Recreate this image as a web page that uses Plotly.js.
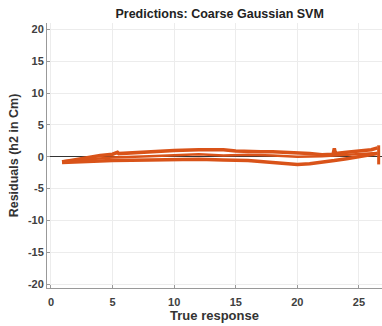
<!DOCTYPE html>
<html><head><meta charset="utf-8">
<script src="https://cdn.plot.ly/plotly-3.0.1.min.js"></script>
<style>html,body{margin:0;padding:0;background:#fff}#c{width:382px;height:326px}</style>
</head><body><div id="c"></div>
<script>
// Upper strand
const xA = [0.9,2,3,4,5,5.4,5.5,7,8.7,10,12,14,15,16,17,18,19,20,21,22,22.9,23,23.1,24,25,26,26.5];
const yA = [-0.8,-0.4,-0.1,0.2,0.4,0.7,0.5,0.7,0.9,1.0,1.1,1.1,0.9,0.8,0.8,0.8,0.7,0.7,0.5,0.3,0.4,1.3,0.5,0.7,0.9,1.1,1.4];
// Middle strand
const xB = [0.9,3,5,8,10,12,14,16,18,20,22,24,26.5];
const yB = [-0.7,-0.4,-0.1,0.1,0.3,0.4,0.2,0.3,0.2,0.0,0.1,0.3,0.6];
// Lower strand
const xC = [0.9,3,5,8,10,12,14,16,18,19,20,21,22,23,24,25,26,26.5];
const yC = [-0.9,-0.7,-0.6,-0.5,-0.4,-0.4,-0.5,-0.6,-0.9,-1.1,-1.2,-1.1,-0.9,-0.6,-0.3,0.0,0.3,0.5];
// Final vertical spread
const xD = [26.6,26.6];
const yD = [-1.2,1.8];
const xTicks = [0,5,10,15,20,25];
const yTicks = [-20,-15,-10,-5,0,5,10,15,20];

const col = '#D95319';
const mk = (x,y,w)=>({x:x,y:y,type:'scatter',mode:'lines',line:{color:col,width:w},hoverinfo:'skip'});
const data = [mk(xA,yA,3.5), mk(xB,yB,2.5), mk(xC,yC,3.5), mk(xD,yD,3)];
const fam = 'Arial, "Liberation Sans", sans-serif';
const tf = {family:fam, size:11, color:'#404040', weight:'bold'};
const layout = {
  width:382, height:326,
  margin:{l:47,r:0,t:23,b:38},
  paper_bgcolor:'#fff', plot_bgcolor:'#fff',
  showlegend:false,
  title:{text:'<b>Predictions: Coarse Gaussian SVM</b>', font:{family:fam, size:12.5, color:'#222'},
    xref:'container', x:0.575, xanchor:'center', yref:'container', y:1-13.5/326, yanchor:'middle'},
  xaxis:{range:[-0.32,26.87], tickvals:xTicks, ticktext:xTicks.map(String), tickfont:tf,
    showgrid:true, gridcolor:'#ececec', zeroline:false, showline:true, linecolor:'#999', linewidth:1,
    ticks:'inside', ticklen:3, tickcolor:'#999', ticklabelstandoff:4,
    title:{text:'<b>True response</b>', font:{family:fam, size:13, color:'#333'}, standoff:2}},
  yaxis:{range:[-20.6,21], tickvals:yTicks, ticktext:yTicks.map(String), tickfont:tf,
    showgrid:true, gridcolor:'#ececec', zeroline:true, zerolinecolor:'#333', zerolinewidth:1,
    showline:true, linecolor:'#999', linewidth:1, ticks:'inside', ticklen:3, tickcolor:'#999',
    title:{text:'<b>Residuals (h2 in Cm)</b>', font:{family:fam, size:12.5, color:'#333'}, standoff:6}}
};
Plotly.newPlot('c', data, layout, {staticPlot:true, displayModeBar:false});
</script></body></html>
